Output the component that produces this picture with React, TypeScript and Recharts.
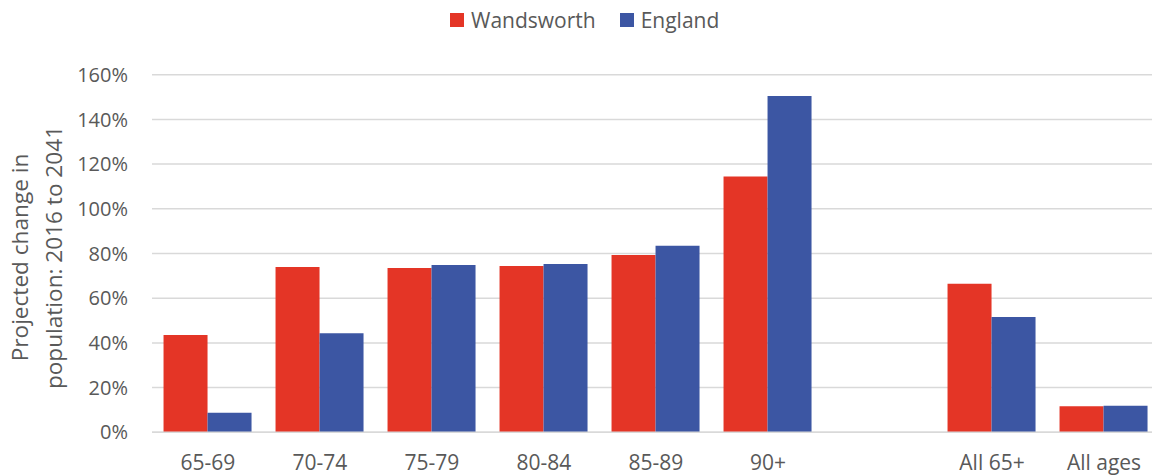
import React from 'react';
import { BarChart, Bar, XAxis, YAxis, CartesianGrid } from 'recharts';

const categories = ['65-69', '70-74', '75-79', '80-84', '85-89', '90+', '', 'All 65+', 'All ages'];
const wandsworth = [43.5, 74.0, 73.5, 74.4, 79.3, 114.5, null, 66.5, 11.6];
const england = [8.8, 44.3, 74.9, 75.3, 83.5, 150.5, null, 51.6, 11.9];
const yTicks = [0, 20, 40, 60, 80, 100, 120, 140, 160];

const series = [
  { key: 'Wandsworth', color: '#E43526' },
  { key: 'England', color: '#3C56A3' },
];

const data = categories.map((name, i) => ({
  name,
  Wandsworth: wandsworth[i],
  England: england[i],
}));

const font = '"Open Sans", sans-serif';
const textColor = '#595959';

function YLabel(props: any) {
  const { viewBox } = props;
  const cy = viewBox.y + viewBox.height / 2 + 4;
  return (
    <text
      transform={`translate(28, ${cy}) rotate(-90)`}
      textAnchor="middle"
      fill={textColor}
      fontSize={22.6}
      fontFamily={font}
    >
      <tspan x={0} dy={0}>Projected change in</tspan>
      <tspan x={0} dy={34}>population: 2016 to 2041</tspan>
    </text>
  );
}

export default function App() {
  return (
    <div style={{ position: 'absolute', left: 0, top: 0, width: 1152, height: 475, overflow: 'hidden', background: '#fff' }}>
      <div
        style={{
          position: 'absolute', left: 450, top: 5, display: 'flex', alignItems: 'center',
          fontFamily: font, fontSize: 21, color: textColor, lineHeight: '30px',
        }}
      >
        {series.map((s) => (
          <div key={s.key} style={{ display: 'flex', alignItems: 'center', marginRight: 24 }}>
            <span style={{ width: 14, height: 14, background: s.color, marginRight: 7, display: 'inline-block' }} />
            <span>{s.key}</span>
          </div>
        ))}
      </div>
      <BarChart
        width={1160}
        height={475}
        data={data}
        margin={{ top: 74.7, right: 0, bottom: 12.7, left: 72 }}
        barCategoryGap="10.3%"
        barGap={0}
      >
        <CartesianGrid vertical={false} stroke="#d9d9d9" strokeWidth={1.5} />
        <XAxis
          dataKey="name"
          axisLine={{ stroke: '#d9d9d9', strokeWidth: 1.5 }}
          tickLine={false}
          tick={{ fill: textColor, fontSize: 21, fontFamily: font }}
          tickMargin={17}
          interval={0}
        />
        <YAxis
          width={80}
          domain={[0, 160]}
          ticks={yTicks}
          tickFormatter={(v) => `${v}%`}
          axisLine={false}
          tickLine={false}
          tick={{ fill: textColor, fontSize: 20, fontFamily: font }}
          tickMargin={18}
          label={{ content: YLabel }}
        />
        {series.map((s) => (
          <Bar key={s.key} dataKey={s.key} fill={s.color} isAnimationActive={false} />
        ))}
      </BarChart>
    </div>
  );
}
